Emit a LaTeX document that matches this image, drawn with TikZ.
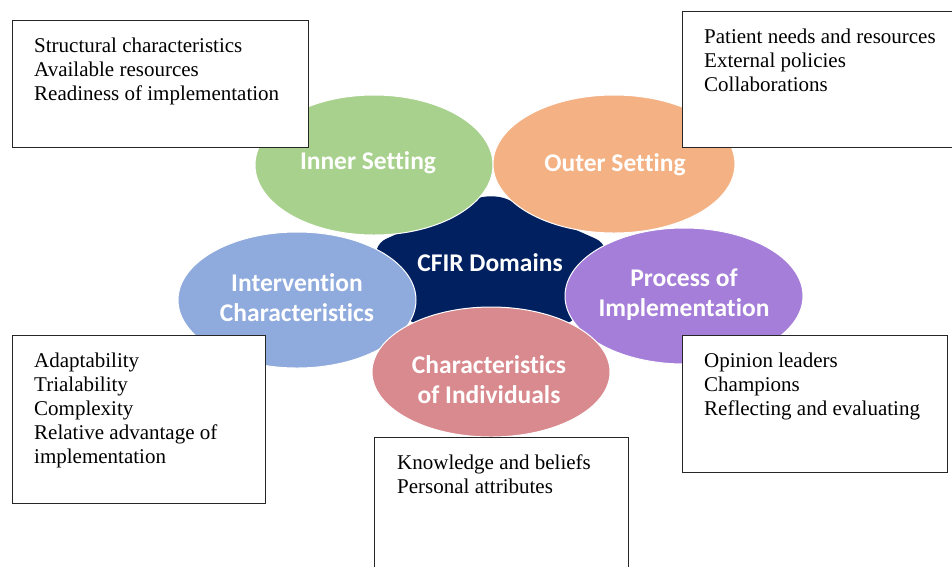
\documentclass[tikz,border=0pt]{standalone}
\usepackage{fontspec}
\setmainfont{Liberation Serif}
\newfontfamily\labelfont[Ligatures={NoCommon}]{Carlito}
\usetikzlibrary{shapes.geometric}
\definecolor{cgreen}{HTML}{A9D18E}
\definecolor{corange}{HTML}{F4B183}
\definecolor{cblue}{HTML}{8FAADC}
\definecolor{cpurple}{HTML}{A47ED8}
\definecolor{cpink}{HTML}{D88A8E}
\definecolor{cnavy}{HTML}{002060}
\begin{document}
\begin{tikzpicture}[x=1pt,y=-1pt,
  blob/.style={ellipse, draw=white, line width=1pt, inner sep=0},
  lbl/.style={text=white, font=\labelfont\bfseries\fontsize{25.5}{30}\selectfont, align=center, inner sep=0},
  infobox/.style={rectangle, draw=black!85, line width=1.1pt, fill=white, inner sep=0, anchor=north west},
  infotext/.style={anchor=base west, inner sep=0, font=\fontsize{21}{24}\selectfont}]
\useasboundingbox (0,0) rectangle (952,566);
\clip (0,0) rectangle (952,566);
\fill[white] (0,0) rectangle (952,566);
% central pentagon
\fill[cnavy, rounded corners=18pt] (491,192) -- (612,246) -- (574,326) -- (408,326) -- (370,246) -- cycle;
% domain ellipses
\node[blob, fill=cgreen, minimum width=238pt, minimum height=140pt] (inner) at (374,165) {};
\node[blob, fill=corange, minimum width=242pt, minimum height=138pt] (outer) at (614,164) {};
\node[blob, fill=cblue, minimum width=238pt, minimum height=136pt] (interv) at (297,300) {};
\node[blob, fill=cpurple, minimum width=238pt, minimum height=136pt] (process) at (684,296) {};
\node[blob, fill=cpink, minimum width=238pt, minimum height=130pt] (indiv) at (491,372) {};
% labels
\node[lbl] (innerlbl) at (368,163) {Inner Setting};
\node[lbl] (outerlbl) at (615,165) {Outer Setting};
\node[lbl] (cfirlbl) at (490,263) {CFIR Domains};
\node[lbl] (intervlbl) at (297,298) {Intervention\\Characteristics};
\node[lbl] (processlbl) at (684,295) {Process of\\Implementation};
\node[lbl] (indivlbl) at (489,380) {Characteristics\\of Individuals};
% boxes
\node[infobox, minimum width=296pt, minimum height=127pt] (tlbox) at (12,20) {};
\node[infobox, minimum width=290pt, minimum height=136pt] (trbox) at (682,11) {};
\node[infobox, minimum width=253pt, minimum height=168pt] (lbox) at (12,335) {};
\node[infobox, minimum width=265pt, minimum height=137pt] (rbox) at (682,335) {};
\node[infobox, minimum width=254pt, minimum height=160pt] (bbox) at (374,437) {};
% box texts
\node[infotext] (tltext) at (34,52) {\parbox[t]{270pt}{Structural characteristics\\Available resources\\Readiness of implementation}};
\node[infotext] (trtext) at (704,43) {\parbox[t]{245pt}{Patient needs and resources\\External policies\\Collaborations}};
\node[infotext] (ltext) at (34,367) {\parbox[t]{228pt}{Adaptability\\Trialability\\Complexity\\Relative advantage of\\implementation}};
\node[infotext] (rtext) at (704,367) {\parbox[t]{240pt}{Opinion leaders\\Champions\\Reflecting and evaluating}};
\node[infotext] (btext) at (397,469) {\parbox[t]{228pt}{Knowledge and beliefs\\Personal attributes}};
\end{tikzpicture}
\end{document}
